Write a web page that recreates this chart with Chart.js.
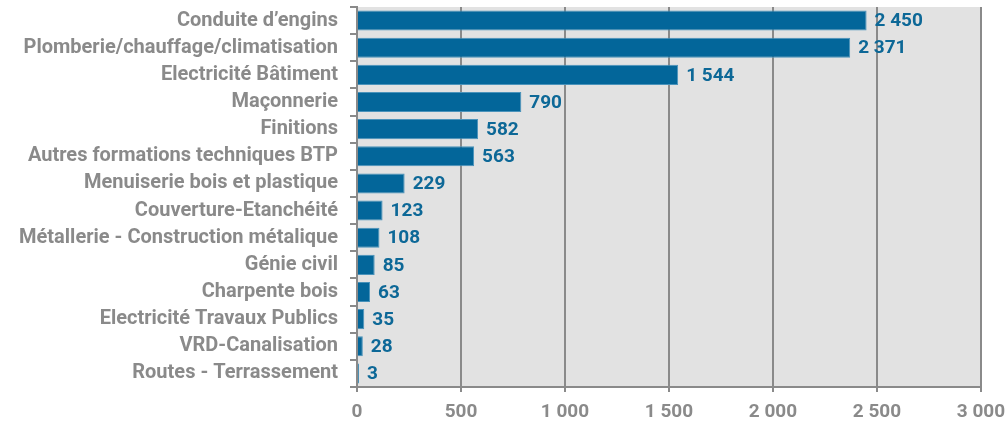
<!DOCTYPE html>
<html>
<head>
<meta charset="utf-8">
<script src="https://cdn.jsdelivr.net/npm/chart.js@4"></script>
<style>
  html, body { margin: 0; padding: 0; background: #fff; }
  #wrap { width: 1007px; height: 423px; position: relative; }
</style>
</head>
<body>
<div id="wrap"><canvas id="chart"></canvas></div>
<script>
const categories = [
  "Conduite d\u2019engins",
  "Plomberie/chauffage/climatisation",
  "Electricité Bâtiment",
  "Maçonnerie",
  "Finitions",
  "Autres formations techniques BTP",
  "Menuiserie bois et plastique",
  "Couverture-Etanchéité",
  "Métallerie - Construction métalique",
  "Génie civil",
  "Charpente bois",
  "Electricité Travaux Publics",
  "VRD-Canalisation",
  "Routes - Terrassement"
];
const values = [2450, 2371, 1544, 790, 582, 563, 229, 123, 108, 85, 63, 35, 28, 3];
const xTicks = [0, 500, 1000, 1500, 2000, 2500, 3000];

const FONT = "Roboto, 'Liberation Sans', sans-serif";
const GREY = "#8a8a8a";
const LINE = "#8a8a8a";
const BLUE = "#03669a";

const fmt = (v) => String(v).replace(/\B(?=(\d{3})+(?!\d))/g, " ");

// grey fill behind the plot area
const plotBg = {
  id: "plotBg",
  beforeDraw(chart) {
    const { ctx, chartArea: a } = chart;
    ctx.save();
    ctx.fillStyle = "#e2e2e2";
    ctx.fillRect(a.left, a.top, a.right - a.left, a.bottom - a.top);
    ctx.restore();
  }
};

// value labels at the end of each bar
const valueLabels = {
  id: "valueLabels",
  afterDatasetsDraw(chart) {
    const { ctx } = chart;
    const meta = chart.getDatasetMeta(0);
    ctx.save();
    ctx.font = "bold 19px " + FONT;
    ctx.fillStyle = "#0d6897";
    ctx.textBaseline = "middle";
    ctx.textAlign = "left";
    meta.data.forEach((bar, i) => {
      ctx.fillText(fmt(values[i]), bar.x + 8, bar.y + 1);
    });
    ctx.restore();
  }
};

new Chart(document.getElementById("chart"), {
  type: "bar",
  data: {
    labels: categories,
    datasets: [{
      data: values,
      backgroundColor: BLUE,
      borderColor: "#4a93bb",
      borderWidth: 1,
      minBarLength: 2,
      categoryPercentage: 1,
      barPercentage: 0.74
    }]
  },
  options: {
    indexAxis: "y",
    responsive: true,
    maintainAspectRatio: false,
    animation: false,
    layout: { padding: { top: 7, right: 26, left: 0, bottom: 0 } },
    plugins: {
      legend: { display: false },
      tooltip: { enabled: false }
    },
    scales: {
      x: {
        min: 0,
        max: 3000,
        afterBuildTicks: (s) => { s.ticks = xTicks.map((v) => ({ value: v })); },
        afterFit: (s) => { s.height = 36; s.paddingLeft = 0; s.paddingRight = 0; },
        ticks: {
          color: GREY,
          font: { family: FONT, size: 19, weight: "bold" },
          padding: 9,
          callback: (v) => fmt(v)
        },
        grid: { color: LINE, lineWidth: 2, tickLength: 5, tickColor: LINE },
        border: { color: LINE, width: 2 }
      },
      y: {
        afterFit: (s) => { s.width = 357; s.paddingTop = 0; s.paddingBottom = 0; },
        ticks: {
          color: GREY,
          font: { family: FONT, size: 20, weight: "bold" },
          padding: 12,
          autoSkip: false
        },
        grid: { drawOnChartArea: false, color: LINE, tickLength: 7, lineWidth: 2, offset: true },
        border: { color: LINE, width: 2 }
      }
    }
  },
  plugins: [plotBg, valueLabels]
});
</script>
</body>
</html>
